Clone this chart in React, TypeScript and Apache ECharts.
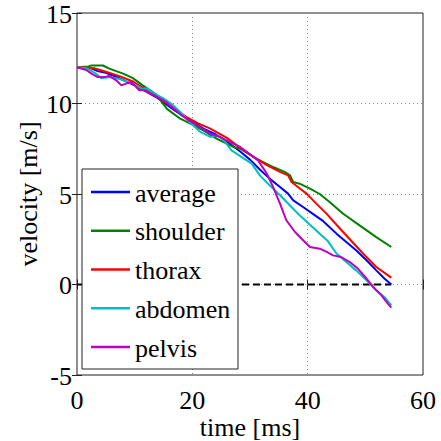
import React, { useEffect, useRef } from "react";
import * as echarts from "echarts";

const xTicks = { min: 0, max: 60, interval: 20 };
const yTicks = { min: -5, max: 15, interval: 5 };
const xTickLabels = [0, 20, 40, 60];
const yTickLabels = [-5, 0, 5, 10, 15];
const xTitle = "time [ms]";
const yTitle = "velocity [m/s]";

const seriesNames = ["average", "shoulder", "thorax", "abdomen", "pelvis"];
const seriesColors = ["#0000ff", "#008000", "#ff0000", "#00bfbf", "#bf00bf"];

const average: number[][] = [
  [0, 12], [2, 12], [3.5, 11.8], [5, 11.7], [7, 11.45], [10, 11.0], [12, 10.65], [14, 10.3],
  [17, 9.6], [19, 9.2], [20.2, 8.98], [22, 8.6], [24, 8.3], [26, 7.9], [28.3, 7.35], [30, 6.9],
  [31.7, 6.35], [33.4, 5.85], [35.2, 5.39], [36.6, 5.02], [37.5, 4.65], [39.2, 4.28], [40.9, 3.9],
  [42.7, 3.5], [45, 2.81], [46.7, 2.35], [48.4, 1.89], [50.2, 1.34], [51.9, 0.78], [53.3, 0.33], [54.5, 0],
];

const shoulder: number[][] = [
  [0, 12], [2, 12.05], [2.5, 12.1], [4.5, 12.1], [5.6, 11.93], [8, 11.65], [9.7, 11.4], [11.4, 11.0],
  [13.7, 10.5], [15.6, 9.7], [17.9, 9.16], [20.2, 8.8], [21.9, 8.52], [24.2, 8.06], [27.1, 7.6],
  [28.3, 7.5], [31.1, 6.95], [34, 6.49], [36, 6.22], [36.9, 6.05], [37.5, 5.66], [38.6, 5.57],
  [40.4, 5.3], [42.1, 5.0], [43.8, 4.56], [46.1, 3.92], [49, 3.27], [51.9, 2.62], [54.5, 2.07],
];

const thorax: number[][] = [
  [0, 12], [3, 11.95], [5, 11.75], [7.5, 11.5], [9.8, 11.2], [12, 10.75], [14.4, 10.27], [16.1, 9.9],
  [19, 9.25], [21, 8.9], [23.1, 8.61], [26, 8.1], [28.3, 7.55], [30.6, 7.05], [32.9, 6.59],
  [35.2, 6.22], [36.6, 6.03], [37.2, 5.66], [38.3, 5.39], [39.8, 5.02], [41.5, 4.47], [43.3, 3.9],
  [45, 3.3], [47.3, 2.5], [49.6, 1.71], [51.9, 0.97], [54.5, 0.38],
];

const abdomen: number[][] = [
  [0, 12], [1.6, 11.95], [3.3, 11.65], [4.2, 11.4], [5.6, 11.46], [7.4, 11.35], [9.7, 11.1],
  [11.4, 10.8], [12.1, 10.85], [13.1, 10.6], [14.9, 10.3], [16.5, 9.95], [18, 9.5], [19.6, 8.95],
  [21.3, 8.45], [23.1, 8.15], [24.5, 8.24], [25.7, 7.87], [26.8, 7.41], [28.5, 7.05], [30.3, 6.68],
  [31.7, 6.03], [33.4, 5.48], [35.2, 4.93], [36.9, 4.38], [38.6, 3.82], [40.4, 3.3], [42.1, 2.8],
  [43.5, 2.4], [45, 1.71], [46.7, 1.24], [48.4, 0.78], [50.2, 0.23], [51.9, -0.32], [53.3, -0.69],
  [54.5, -1.15],
];

const pelvis: number[][] = [
  [0, 12], [1.6, 11.85], [2.5, 11.65], [3.6, 11.46], [4.8, 11.46], [5.6, 11.52], [6.8, 11.28],
  [7.7, 11.0], [8.5, 11.1], [9.4, 11.19], [10, 11.0], [10.8, 10.73], [11.7, 10.73], [12.3, 10.63],
  [13.7, 10.4], [15.4, 10.1], [17.9, 9.4], [19.5, 9.05], [21.3, 8.7], [23, 8.34], [24.8, 8.15],
  [26.5, 7.87], [28.3, 7.6], [30, 7.2], [31.4, 6.86], [32.9, 6.13], [34, 5.39], [35.2, 4.47],
  [36.3, 3.55], [37.8, 2.9], [38.9, 2.54], [40.4, 2.07], [42.1, 1.98], [43.3, 1.8], [44.4, 1.61],
  [45.8, 1.52], [47.3, 1.24], [48.7, 0.88], [50.2, 0.33], [51.6, -0.22], [52.8, -0.6],
  [53.9, -1.06], [54.5, -1.28],
];

const zeroLine: number[][] = [
  [0, 0],
  [54.5, 0],
];

const seriesData = [average, shoulder, thorax, abdomen, pelvis];

const FONT_SHORT = "normal normal normal 26px 'Liberation Serif', 'Times New Roman', serif";

export default function App() {
  const ref = useRef<HTMLDivElement>(null);

  useEffect(() => {
    document.body.style.margin = "0";
    if (!ref.current) return;
    const chart = echarts.init(ref.current, undefined, { renderer: "svg" });

    const tickStyle = { show: true, inside: true, length: 5, lineStyle: { color: "#222", width: 1 } };
    const grid = { left: 77, right: 18, top: 13, bottom: 66 };

    const option: any = {
      animation: false,
      backgroundColor: "#ffffff",
      grid: {
        ...grid,
        show: true,
        borderColor: "#222",
        borderWidth: 1,
        backgroundColor: "transparent",
      },
      xAxis: [
        {
          type: "value",
          min: xTicks.min,
          max: xTicks.max,
          interval: xTicks.interval,
          axisLine: { show: false },
          axisTick: tickStyle,
          axisLabel: { show: false },
          splitLine: { show: true, lineStyle: { color: "#888", width: 1, type: [1, 3] } },
        },
        {
          type: "value",
          position: "top",
          min: xTicks.min,
          max: xTicks.max,
          interval: xTicks.interval,
          axisLine: { show: false },
          axisTick: tickStyle,
          axisLabel: { show: false },
          splitLine: { show: false },
        },
      ],
      yAxis: [
        {
          type: "value",
          min: yTicks.min,
          max: yTicks.max,
          interval: yTicks.interval,
          axisLine: { show: false },
          axisTick: tickStyle,
          axisLabel: { show: false },
          splitLine: { show: true, lineStyle: { color: "#888", width: 1, type: [1, 3] } },
        },
        {
          type: "value",
          position: "right",
          min: yTicks.min,
          max: yTicks.max,
          interval: yTicks.interval,
          axisLine: { show: false },
          axisTick: tickStyle,
          axisLabel: { show: false },
          splitLine: { show: false },
        },
      ],
      series: [
        {
          name: "zero",
          type: "line",
          data: zeroLine,
          symbol: "none",
          silent: true,
          z: 1,
          lineStyle: { color: "#000", width: 2, type: [7, 4] },
        },
        ...seriesNames.map((name, i) => ({
          name,
          type: "line",
          data: seriesData[i],
          symbol: "none",
          showSymbol: false,
          lineStyle: { color: seriesColors[i], width: 2 },
          itemStyle: { color: seriesColors[i] },
        })),
      ],
    };

    chart.setOption(option);

    const toPx = (x: number, y: number) =>
      chart.convertToPixel({ gridIndex: 0 }, [x, y]) as number[];
    const [x0, yBottom] = toPx(xTicks.min, yTicks.min);
    const [x1, yTop] = toPx(xTicks.max, yTicks.max);

    const textStyle = (text: string, align: string, vAlign: string) => ({
      text,
      font: FONT_SHORT,
      fill: "#000",
      align,
      verticalAlign: vAlign,
    });

    const graphics: any[] = [];
    xTickLabels.forEach((v) => {
      const [px] = toPx(v, 0);
      graphics.push({ type: "text", x: px, y: yBottom + 25, z: 10, style: textStyle(String(v), "center", "middle") });
    });
    yTickLabels.forEach((v) => {
      const [, py] = toPx(0, v);
      graphics.push({ type: "text", x: x0 - 5, y: py + 1, z: 10, style: textStyle(String(v), "right", "middle") });
    });
    graphics.push({
      type: "text",
      x: (x0 + x1) / 2,
      y: yBottom + 52,
      z: 10,
      style: textStyle(xTitle, "center", "middle"),
    });
    graphics.push({
      type: "text",
      x: 28,
      y: (yTop + yBottom) / 2,
      rotation: Math.PI / 2,
      z: 10,
      style: textStyle(yTitle, "center", "middle"),
    });

    const lg = { x: 82, y: 169, w: 156, h: 200, row0: 23, pitch: 38.75, lineX0: 9, lineX1: 48, textX: 53 };
    graphics.push({
      type: "rect",
      z: 20,
      shape: { x: lg.x, y: lg.y, width: lg.w, height: lg.h },
      style: { fill: "#ffffff", stroke: "#222", lineWidth: 1 },
    });
    seriesNames.forEach((name, i) => {
      const cy = lg.y + lg.row0 + i * lg.pitch;
      graphics.push({
        type: "line",
        z: 21,
        shape: { x1: lg.x + lg.lineX0, y1: cy, x2: lg.x + lg.lineX1, y2: cy },
        style: { stroke: seriesColors[i], lineWidth: 2.5 },
      });
      graphics.push({
        type: "text",
        z: 21,
        x: lg.x + lg.textX,
        y: cy + 1,
        style: textStyle(name, "left", "middle"),
      });
    });

    chart.setOption({ graphic: graphics });
    return () => chart.dispose();
  }, []);

  return <div ref={ref} style={{ width: 441, height: 441 }} />;
}
